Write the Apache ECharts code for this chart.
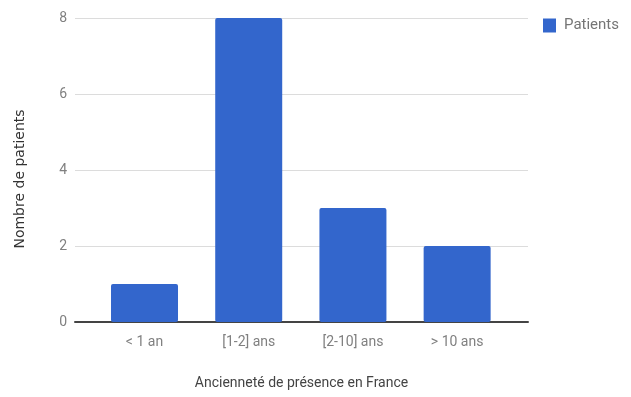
<!DOCTYPE html>
<html>
<head>
<meta charset="utf-8">
<script src="https://cdn.jsdelivr.net/npm/echarts@6/dist/echarts.min.js"></script>
<style>
html,body{margin:0;padding:0;background:#fff;}
#chart{width:631px;height:397px;}
</style>
</head>
<body>
<div id="chart"></div>
<script>
var categories = ['< 1 an', '[1-2] ans', '[2-10] ans', '> 10 ans'];
var patients = [1, 8, 3, 2];
var yTicks = [0, 2, 4, 6, 8];
var seriesName = 'Patients';
var xTitle = 'Ancienneté de présence en France';
var yTitle = 'Nombre de patients';

var font = 'Roboto, sans-serif';
var chart = echarts.init(document.getElementById('chart'), null, {renderer: 'canvas'});
var positions = categories.map(function (c, i) { return i; });
chart.setOption({
  animation: false,
  backgroundColor: '#fff',
  legend: {
    show: true,
    right: 7,
    top: 13,
    icon: 'rect',
    itemWidth: 13,
    itemHeight: 14,
    textStyle: {fontFamily: font, fontSize: 15, color: '#757575', padding: [0, 0, 0, 3]},
    data: [seriesName]
  },
  grid: {left: 75, right: 103, top: 18, bottom: 75},
  xAxis: {
    type: 'value',
    min: -0.667,
    max: 3.68,
    name: xTitle,
    nameLocation: 'middle',
    nameGap: 54,
    nameTextStyle: {fontFamily: font, fontSize: 14, color: '#444'},
    axisLine: {show: true, lineStyle: {color: '#444', width: 2}},
    axisTick: {show: false},
    splitLine: {show: false},
    axisLabel: {
      customValues: positions,
      margin: 13,
      fontFamily: font,
      fontSize: 14,
      color: '#808080',
      formatter: function (v) { return categories[Math.round(v)]; }
    }
  },
  yAxis: {
    type: 'value',
    min: 0,
    max: 8,
    interval: 2,
    name: yTitle,
    nameLocation: 'middle',
    nameGap: 48,
    nameTextStyle: {fontFamily: '"DejaVu Sans", sans-serif', fontSize: 14, color: '#333', padding: [0, 18, 0, 0]},
    axisLine: {show: false},
    axisTick: {show: false},
    splitLine: {lineStyle: {color: '#dcdcdc', width: 1}},
    axisLabel: {
      margin: 8,
      fontFamily: font,
      fontSize: 14,
      color: '#808080',
      formatter: function (v) { return yTicks.indexOf(v) >= 0 ? String(v) : ''; }
    }
  },
  series: [{
    name: seriesName,
    type: 'bar',
    barWidth: 67,
    itemStyle: {color: '#3366cc', borderRadius: 2},
    data: patients.map(function (v, i) { return [positions[i], v]; })
  }]
});
</script>
</body>
</html>
